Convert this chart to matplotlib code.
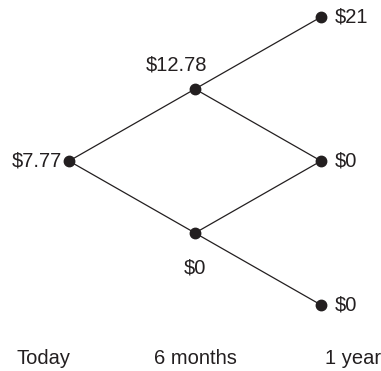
import matplotlib
matplotlib.use("Agg")
from matplotlib import pyplot as plt

# binomial tree: step (0 = today, 1 = 6 months, 2 = 1 year), net up-moves, option value
steps = [0, 1, 1, 2, 2, 2]
levels = [0, 1, -1, 2, 0, -2]
values = [7.77, 12.78, 0, 21, 0, 0]
time_labels = ["Today", "6 months", "1 year"]

plt.rcParams["font.family"] = ["Liberation Sans", "DejaVu Sans"]
txt_color = "#231f20"
fs = 14.5

fig = plt.figure(figsize=(3.81, 3.71), dpi=100)
ax = fig.add_axes([0, 0, 1, 1])

def fmt(v):
    return "$%g" % v

# branches
for s, l in zip(steps, levels):
    for s2, l2 in zip(steps, levels):
        if s2 == s + 1 and abs(l2 - l) == 1:
            ax.plot([s, s2], [l, l2], color=txt_color, lw=0.9, zorder=1)

ax.plot(steps, levels, "o", color=txt_color, ms=7.5, zorder=2)

# value labels
for s, l, v in zip(steps, levels, values):
    if s == 0:
        ax.text(s - 0.055, l, fmt(v), ha="right", va="center", fontsize=fs,
                color=txt_color, parse_math=False)
    elif s == 2:
        ax.text(s + 0.11, l, fmt(v), ha="left", va="center", fontsize=fs,
                color=txt_color, parse_math=False)
    elif l > 0:
        ax.text(s - 0.145, l + 0.34, fmt(v), ha="center", va="center", fontsize=fs,
                color=txt_color, parse_math=False)
    else:
        ax.text(s, l - 0.49, fmt(v), ha="center", va="center", fontsize=fs,
                color=txt_color, parse_math=False)

# time axis labels
for i, t in enumerate(time_labels):
    ha = ["right", "center", "left"][i]
    dx = [0.01, 0.0, 0.03][i]
    ax.text(i + dx, -2.74, t, ha=ha, va="center", fontsize=fs, color=txt_color)

ax.set_xlim(-0.548, 2.476)
ax.set_ylim(-2.917, 2.236)
ax.axis("off")

fig.savefig("out.png", dpi=100)
